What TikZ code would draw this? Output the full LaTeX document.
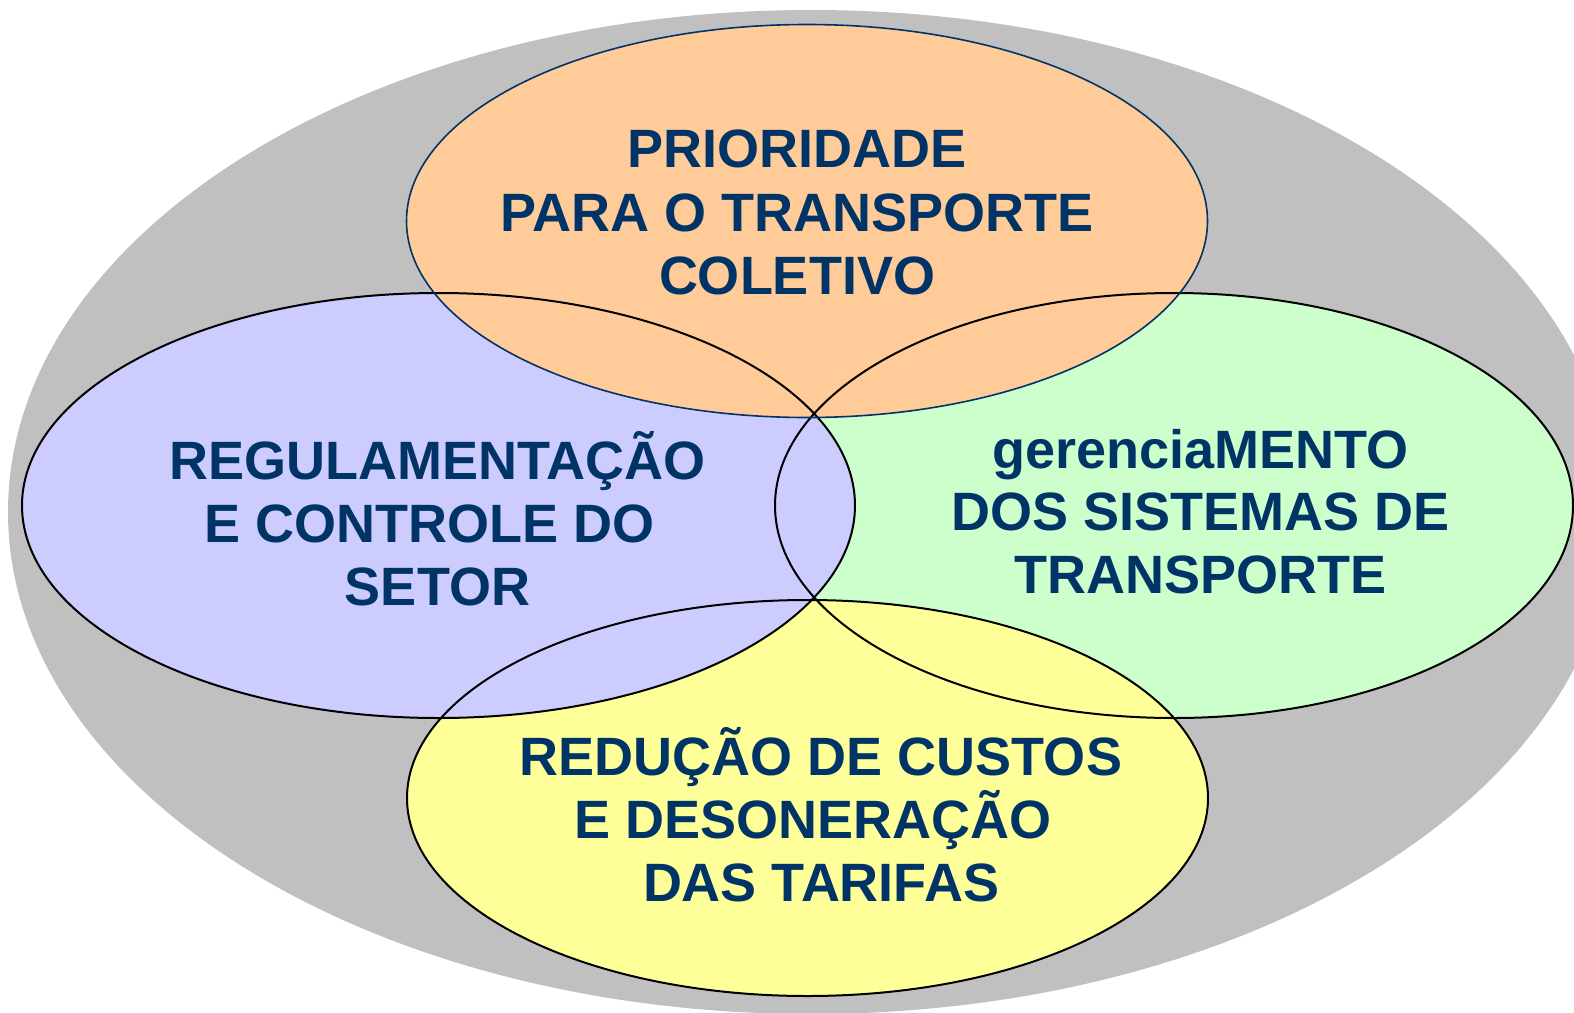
\documentclass[tikz,border=0pt]{standalone}
\usepackage{fontspec}
\setmainfont{Liberation Sans}
\definecolor{grayfill}{HTML}{C0C0C0}
\definecolor{orangefill}{HTML}{FFCC99}
\definecolor{bluefill}{HTML}{CCCCFF}
\definecolor{greenfill}{HTML}{CCFFCC}
\definecolor{yellowfill}{HTML}{FFFF99}
\definecolor{navy}{HTML}{003366}
\begin{document}
\begin{tikzpicture}[x=1pt,y=-1pt,
  lbl/.style={anchor=base,inner sep=0pt,text=navy,font=\fontsize{54}{63}\selectfont\bfseries},
  outl/.style={draw=black,line width=2pt},
  topoutl/.style={draw=navy,line width=1.6pt}]
\useasboundingbox (0,0) rectangle (1574,1012);
\clip (0,0) rectangle (1574,1012);
\fill[white] (0,0) rectangle (1574,1012);
% outer gray ellipse
\fill[grayfill] (811,512) ellipse [x radius=803, y radius=502];
% fills in stacking order
\fill[greenfill] (1174,505.5) ellipse [x radius=399, y radius=212.5];
\fill[yellowfill] (807.5,798) ellipse [x radius=400.5, y radius=198];
\fill[bluefill] (438.5,505.5) ellipse [x radius=416.5, y radius=212.5];
\fill[orangefill] (807,221) ellipse [x radius=400.5, y radius=196.5];
% outlines
\draw[outl] (1174,505.5) ellipse [x radius=399, y radius=212.5];
\draw[outl] (807.5,798) ellipse [x radius=400.5, y radius=198];
\draw[outl] (438.5,505.5) ellipse [x radius=416.5, y radius=212.5];
\draw[topoutl] (807,221) ellipse [x radius=400.5, y radius=196.5];
% texts
\node[lbl] (top1) at (797,167.6) {PRIORIDADE};
\node[lbl] (top2) at (797,231) {PARA O TRANSPORTE};
\node[lbl] (top3) at (797,294) {COLETIVO};
\node[lbl] (left1) at (437.5,479) {REGULAMENTAÇÃO};
\node[lbl] (left2) at (437.5,542) {E CONTROLE DO\kern.278em};
\node[lbl] (left3) at (437.5,605) {SETOR};
\node[lbl] (right1) at (1200.5,468) {gerenciaMENTO};
\node[lbl] (right2) at (1200.5,530) {DOS SISTEMAS DE};
\node[lbl] (right3) at (1200.5,593) {TRANSPORTE};
\node[lbl] (bot1) at (821,775) {REDUÇÃO DE CUSTOS};
\node[lbl] (bot2) at (821,838) {E DESONERAÇÃO\kern.278em};
\node[lbl] (bot3) at (821,901) {DAS TARIFAS};
\end{tikzpicture}
\end{document}
